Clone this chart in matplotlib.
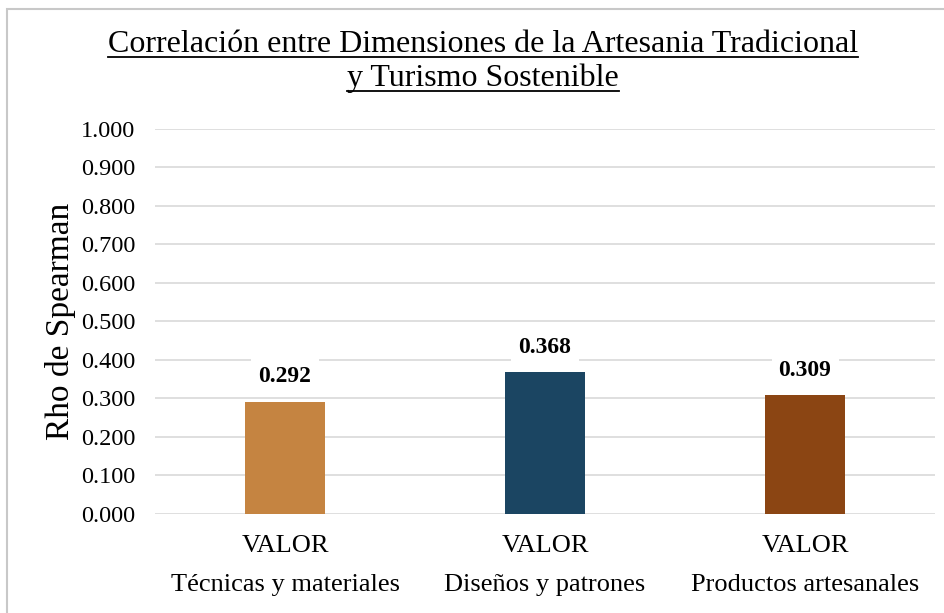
import matplotlib.pyplot as plt
from matplotlib.patches import Rectangle
from matplotlib.lines import Line2D

# datos del grafico
categorias = ["Técnicas y materiales", "Diseños y patrones", "Productos artesanales"]
serie = "VALOR"
rho = [0.292, 0.368, 0.309]
colores = ["#C58441", "#1B4562", "#8B4513"]
ticks_y = [0.0, 0.1, 0.2, 0.3, 0.4, 0.5, 0.6, 0.7, 0.8, 0.9, 1.0]

serif = ['Liberation Serif', 'DejaVu Serif']
plt.rcParams['font.family'] = serif

fig = plt.figure(figsize=(9.44, 6.13), dpi=100)
ax = fig.add_axes([0.1642, 0.1615, 0.8263, 0.6281])

x = list(range(len(categorias)))
ax.bar(x, rho, width=0.31, color=colores, zorder=3)

for xi, v in zip(x, rho):
    ax.annotate(f"{v:.3f}", (xi, v), xytext=(0, 18), textcoords="offset points",
                ha="center", va="center", fontsize=17, fontweight="bold",
                bbox=dict(boxstyle="square,pad=0.3", fc="white", ec="none"), zorder=4)

ax.set_xlim(-0.5, len(categorias) - 0.5)
ax.set_ylim(0, 1.0)
ax.set_yticks(ticks_y)
ax.set_yticklabels([f"{t:.3f}" for t in ticks_y], fontsize=17.5)
ax.set_xticks(x)
ax.set_xticklabels([f"{serie}\n{c}" for c in categorias], fontsize=19, linespacing=2.0)
ax.tick_params(axis="both", length=0)
ax.tick_params(axis="y", pad=14)
ax.tick_params(axis="x", pad=15)
ax.grid(axis="y", color="#d9d9d9", linewidth=1.2, zorder=0)
for s in ax.spines.values():
    s.set_visible(False)

ax.set_ylabel("Rho de Spearman", fontsize=24, labelpad=4)

# titulo subrayado
t1 = fig.text(0.5116, 0.928, "Correlación entre Dimensiones de la Artesania Tradicional",
              ha="center", va="center", fontsize=23, family=serif)
t2 = fig.text(0.5116, 0.873, "y Turismo Sostenible", ha="center", va="center",
              fontsize=23, family=serif)

fig.canvas.draw()
r = fig.canvas.get_renderer()
for t in (t1, t2):
    bb = t.get_window_extent(r).transformed(fig.transFigure.inverted())
    fig.add_artist(Line2D([bb.x0, bb.x1], [bb.y0 + 0.003, bb.y0 + 0.003],
                          transform=fig.transFigure, color="black", linewidth=1.3))

# marco gris del grafico
fig.add_artist(Rectangle((0.0075, -0.01), 1.1, 0.995, transform=fig.transFigure,
                         fill=False, edgecolor="#c8c8c8", linewidth=1.5))

fig.savefig("out.png", dpi=100)
